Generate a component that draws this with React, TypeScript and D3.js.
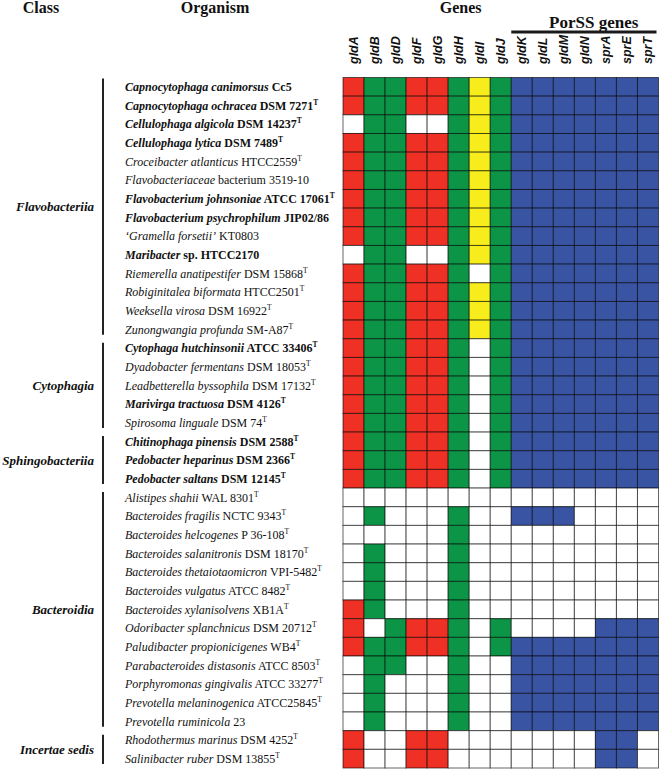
import React from "react";
import * as d3 from "d3";

const genes = ["gldA","gldB","gldD","gldF","gldG","gldH","gldI","gldJ","gldK","gldL","gldM","gldN","sprA","sprE","sprT"];
const geneColorKey = ["r","g","g","r","r","g","y","g","b","b","b","b","b","b","b"];

const classNames = ["Flavobacteriia","Cytophagia","Sphingobacteriia","Bacteroidia","Incertae sedis"];
const classSizes = [14, 5, 3, 13, 2];

const orgGenus = [
  "Capnocytophaga canimorsus","Capnocytophaga ochracea","Cellulophaga algicola","Cellulophaga lytica",
  "Croceibacter atlanticus","Flavobacteriaceae","Flavobacterium johnsoniae","Flavobacterium psychrophilum",
  "\u2018Gramella forsetii\u2019","Maribacter","Riemerella anatipestifer","Robiginitalea biformata",
  "Weeksella virosa","Zunongwangia profunda",
  "Cytophaga hutchinsonii","Dyadobacter fermentans","Leadbetterella byssophila","Marivirga tractuosa","Spirosoma linguale",
  "Chitinophaga pinensis","Pedobacter heparinus","Pedobacter saltans",
  "Alistipes shahii","Bacteroides fragilis","Bacteroides helcogenes","Bacteroides salanitronis",
  "Bacteroides thetaiotaomicron","Bacteroides vulgatus","Bacteroides xylanisolvens","Odoribacter splanchnicus",
  "Paludibacter propionicigenes","Parabacteroides distasonis","Porphyromonas gingivalis","Prevotella melaninogenica",
  "Prevotella ruminicola",
  "Rhodothermus marinus","Salinibacter ruber"
];
const orgStrain = [
  "Cc5","DSM 7271","DSM 14237","DSM 7489",
  "HTCC2559","bacterium 3519-10","ATCC 17061","JIP02/86",
  "KT0803","sp. HTCC2170","DSM 15868","HTCC2501",
  "DSM 16922","SM-A87",
  "ATCC 33406","DSM 18053","DSM 17132","DSM 4126","DSM 74",
  "DSM 2588","DSM 2366","DSM 12145",
  "WAL 8301","NCTC 9343","P 36-108","DSM 18170",
  "VPI-5482","ATCC 8482","XB1A","DSM 20712",
  "WB4","ATCC 8503","ATCC 33277","ATCC25845",
  "23",
  "DSM 4252","DSM 13855"
];
const orgType = [
  0,1,1,1, 1,0,1,0, 0,0,1,1, 1,1,
  1,1,1,1,1,
  1,1,1,
  1,1,1,1, 1,1,1,1, 1,1,1,1, 0,
  1,1
];
const orgBold = [
  1,1,1,1, 0,0,1,1, 0,1,0,0, 0,0,
  1,0,0,1,0,
  1,1,1,
  0,0,0,0, 0,0,0,0, 0,0,0,0, 0,
  0,0
];

const presence = [
  "111111111111111","111111111111111","011001111111111","111111111111111",
  "111111111111111","111111111111111","111111111111111","111111111111111",
  "111111111111111","011001111111111","111111011111111","111111111111111",
  "111111111111111","111111111111111",
  "111111011111111","111111011111111","111111011111111","111111011111111","111111011111111",
  "111111011111111","111111011111111","111111011111111",
  "000000000000000","010001001110000","000001000000000","010001000000000",
  "010001000000000","010001000000000","110001000000000","101111010000111",
  "111111011111111","011001001111111","010001001111111","010001001111111",
  "010001001111111",
  "100110000000110","100110000000110"
];

const palette: Record<string, string> = { r: "#EE3124", g: "#0C9546", y: "#F7EC1C", b: "#3A54A4" };

const W = 660, H = 769;
const rowY = d3.scaleBand<number>().domain(d3.range(presence.length)).range([77.5, 768]);
const colX = d3.scaleBand<string>().domain(genes).range([343, 658.5]);

const serif = "'Liberation Serif', 'Times New Roman', serif";
const sans = "'Liberation Sans', Arial, sans-serif";

export default function App() {
  const bw = rowY.bandwidth();
  const cw = colX.bandwidth();
  let start = 0;
  const groups = classNames.map((n, i) => {
    const g = { name: n, first: start, last: start + classSizes[i] - 1 };
    start += classSizes[i];
    return g;
  });
  const porLeft = colX("gldK") as number;
  const porRight = (colX("sprT") as number) + cw;
  return (
    <div style={{ position: "absolute", left: 0, top: 0 }}>
      <svg width={W} height={H} style={{ display: "block", background: "#fff" }}>
        <g fontFamily={serif} fontWeight="bold" fontSize={16} fill="#111">
          <text x={41} y={13} textAnchor="middle">Class</text>
          <text x={215} y={13} textAnchor="middle">Organism</text>
          <text x={(colX("gldH") as number) + cw / 2 + 2} y={13} textAnchor="middle">Genes</text>
          <text x={porLeft + (porRight - porLeft) * 0.56} y={28} textAnchor="middle" fontSize={17}>PorSS genes</text>
        </g>
        <line x1={porLeft} x2={porRight - 2} y1={32} y2={32} stroke="#1a1a1a" strokeWidth={3} />
        {genes.map((g) => (
          <text key={g}
            transform={`translate(${(colX(g) as number) + cw / 2 + 4.5},64) rotate(-90)`}
            fontFamily={sans} fontWeight="bold" fontStyle="italic" fontSize={12.5} fill="#111">{g}</text>
        ))}
        {presence.map((row, ri) =>
          genes.map((g, ci) => (
            <rect key={ri + "-" + ci}
              x={colX(g)} y={rowY(ri)} width={cw} height={bw}
              fill={row[ci] === "1" ? palette[geneColorKey[ci]] : "#ffffff"}
              stroke="rgba(0,0,0,0.6)" strokeWidth={1} />
          ))
        )}
        {orgGenus.map((n, i) => (
          <text key={n} x={125} y={(rowY(i) as number) + bw / 2 + 4.2}
            fontFamily={serif} fontSize={12} fill="#111" fontWeight={orgBold[i] ? "bold" : "normal"}>
            <tspan fontStyle="italic">{n}</tspan>
            <tspan>{" " + orgStrain[i]}</tspan>
            {orgType[i] ? <tspan fontSize={7.5} dy={-5}>T</tspan> : null}
          </text>
        ))}
        {groups.map((g, i) => {
          const top = rowY(g.first) as number;
          const bottom = (rowY(g.last) as number) + bw;
          const y0 = top + (i === 0 ? 1 : 4);
          const y1 = bottom - 4;
          return (
            <g key={g.name}>
              <line x1={103} x2={103} y1={y0} y2={y1} stroke="#222" strokeWidth={2} />
              <text x={94} y={(y0 + y1) / 2 + 4.5} textAnchor="end" fontFamily={serif}
                fontWeight="bold" fontStyle="italic" fontSize={13} fill="#111">{g.name}</text>
            </g>
          );
        })}
      </svg>
    </div>
  );
}
